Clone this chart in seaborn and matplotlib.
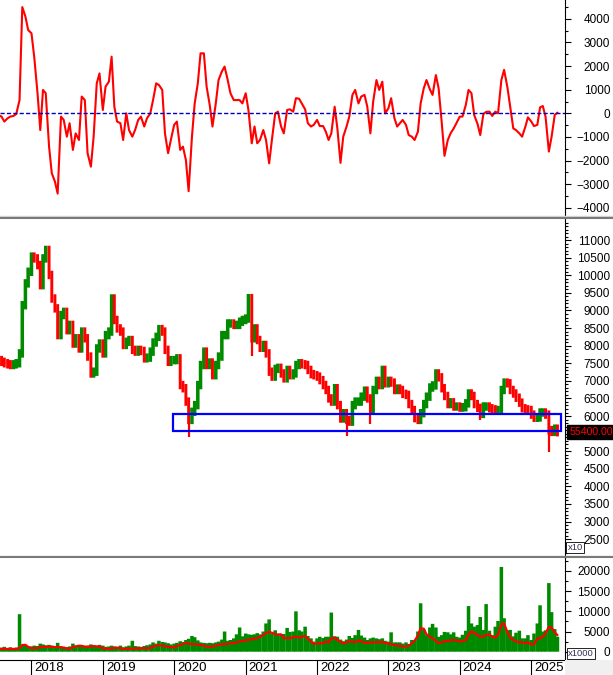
import numpy as np
import pandas as pd
import seaborn as sns
import matplotlib.pyplot as plt
import matplotlib.dates as mdates
from matplotlib.patches import Rectangle
from matplotlib.lines import Line2D

sns.set_style("white")
plt.rcParams["font.family"] = ["Liberation Sans", "DejaVu Sans"]

# semi-monthly samples
dates = pd.date_range("2017-07-15", "2025-05-31", freq="SMS")

oscillator = [
    -70, -140, -350, -210, -140, -110, -30, 560, 4500, 4100, 3530, 3390, 2400, 850, -710, 990,
    850, -1410, -2540, -2890, -3400, -140, -280, -990, -420, -1550, -850, -1130, 710, 560, -1690, -2260,
    -990, 1270, 1690, 140, 1130, 1340, 2400, 280, -350, -420, -1130, 0, -710, -990, -710, -280,
    -140, -560, -210, 0, 560, 1270, 1200, 990, -850, -1690, -1130, -490, -350, -1550, -1410, -1980,
    -3300, -990, 420, 1270, 2540, 2540, 1130, 350, -560, 420, 1410, 1770, 1980, 1410, 850, 560,
    560, 560, 420, 850, 140, -1270, -560, -1270, -1130, -710, -1130, -2120, -1130, 0, 70, -560,
    -850, 140, 170, 70, 640, 620, 420, 170, -420, -560, -490, -280, -540, -540, -780, -1130,
    -850, 280, -640, -2100, -990, -560, -140, 780, 990, 420, 710, 780, 280, -850, 490, 1410,
    990, 1340, 0, 210, 640, -210, -560, -420, -280, -490, -920, -990, -1130, -780, 420, 1060,
    1410, 1020, 780, 1620, 1060, -400, -1800, -1130, -850, -640, -420, -140, -140, 350, 990, 850,
    -70, -450, -920, -30, 60, 70, -110, 70, 0, 1410, 1840, 1100, 280, -640, -710, -850,
    -990, -590, -170, -350, -540, -490, 250, 310, -140, -1620, -990, -70, 30,
]

close = [
    7590, 7540, 7500, 7470, 7450, 7470, 7500, 7780, 9150, 9770, 10100, 10530, 10480, 10290, 9720, 10480,
    10720, 10010, 9340, 9060, 8300, 8870, 8960, 8440, 8590, 8060, 8210, 7920, 8400, 8210, 7690, 7210,
    7260, 7920, 8060, 7780, 8300, 8400, 9340, 8730, 8490, 8400, 8020, 8110, 8160, 7880, 7830, 7880,
    7850, 7640, 7660, 7830, 8090, 8250, 8470, 8400, 7880, 7540, 7590, 7590, 7640, 6880, 6790, 6410,
    5890, 6120, 6310, 6880, 7450, 7830, 7450, 7520, 7160, 7450, 7690, 8300, 8300, 8630, 8630, 8590,
    8590, 8680, 8730, 8770, 9350, 8210, 8490, 8160, 7940, 8020, 7780, 7260, 7120, 7340, 7370, 7210,
    7070, 7310, 7160, 7210, 7450, 7500, 7470, 7450, 7310, 7190, 7160, 7120, 7020, 6880, 6740, 6500,
    6410, 6790, 6310, 5930, 6080, 5890, 5840, 6310, 6410, 6410, 6550, 6720, 6500, 6170, 6740, 7000,
    6880, 7310, 6930, 7000, 6950, 6740, 6780, 6740, 6630, 6600, 6340, 6170, 5940, 5890, 6080, 6340,
    6550, 6810, 6870, 7210, 7100, 6790, 6570, 6340, 6390, 6270, 6270, 6240, 6250, 6360, 6640, 6570,
    6340, 6230, 6060, 6270, 6270, 6220, 6190, 6170, 6170, 6740, 6950, 6930, 6740, 6640, 6520, 6380,
    6220, 6190, 6170, 6040, 5950, 5960, 6100, 6100, 6040, 5600, 5550, 5640, 5540,
]

volume = [
    900, 1000, 1200, 900, 1100, 900, 1000, 9300, 1800, 1500, 1200, 1300, 1500, 1400, 2000, 1800,
    1600, 1700, 1500, 1400, 2200, 1300, 1200, 1100, 1300, 2000, 1500, 1700, 1600, 1400, 1500, 1800,
    1500, 1400, 1700, 1500, 1200, 1300, 1500, 1300, 1200, 1500, 1100, 1300, 1500, 2700, 1400, 1300,
    1200, 1400, 1600, 1800, 2300, 2000, 2700, 2400, 2300, 2100, 1800, 2000, 2200, 2600, 2400, 2900,
    3200, 3900, 3600, 2800, 2300, 2200, 2100, 2200, 2100, 2300, 2500, 3000, 5000, 2700, 2900, 3300,
    4300, 6000, 3800, 4500, 4300, 4200, 4300, 4600, 4300, 5000, 7000, 8000, 4500, 5300, 4500, 4200,
    4400, 5900, 4900, 5000, 10000, 5300, 5000, 6200, 3900, 3300, 2500, 3300, 3700, 3400, 3700, 3700,
    9700, 3800, 3700, 3000, 2600, 3000, 3900, 3400, 4100, 5400, 4000, 3500, 2900, 3300, 3500, 3300,
    3100, 3300, 2700, 2500, 4800, 2300, 2300, 2300, 2000, 2300, 1900, 2900, 2900, 5000, 12000, 5500,
    4100, 6000, 6900, 6000, 3700, 4100, 4900, 4800, 4300, 4800, 3700, 3500, 4200, 5200, 11300, 7000,
    6200, 6600, 8600, 5400, 11800, 5200, 4100, 6200, 7600, 21000, 8300, 5300, 5400, 3800, 4700, 5200,
    3300, 3300, 4100, 2900, 4500, 7000, 11500, 5000, 5300, 17000, 9800, 5600, 3700,
]

volume_ma = [
    670, 670, 680, 690, 680, 680, 700, 900, 1650, 1700, 1200, 900, 850, 900, 1150, 1200,
    1150, 1250, 1200, 1150, 1150, 1100, 1000, 850, 700, 1150, 1300, 1450, 1450, 1250, 1200, 1300,
    1400, 1300, 1250, 850, 800, 700, 800, 950, 1000, 850, 700, 700, 700, 750, 800, 830,
    830, 830, 830, 900, 1250, 1500, 1600, 1500, 1300, 1250, 1100, 1050, 1400, 1650, 1900, 2100,
    2000, 1900, 1800, 1750, 1650, 1500, 1250, 1200, 1250, 1500, 1650, 1800, 1850, 1950, 2100, 2100,
    2300, 2500, 2650, 2800, 2900, 3100, 3200, 3400, 3700, 4100, 4600, 4900, 4700, 4300, 4200, 4300,
    3300, 3400, 3300, 3600, 3700, 3450, 3700, 3900, 3300, 2500, 2000, 2000, 2100, 2100, 2500, 2300,
    3300, 3500, 2900, 2500, 2100, 2300, 2600, 2500, 2300, 2800, 2600, 2200, 2200, 2300, 2300, 2300,
    2300, 2500, 2100, 2100, 1800, 1650, 1500, 1500, 1250, 1300, 1400, 2100, 2700, 4000, 5800, 5700,
    4300, 3700, 3300, 2700, 2100, 2300, 2600, 2650, 2800, 2900, 2800, 2500, 2600, 2900, 4200, 5000,
    4700, 4100, 3700, 3800, 4100, 4300, 3700, 3500, 4200, 6800, 7000, 4800, 3500, 2900, 2600, 2300,
    2300, 2100, 2300, 1800, 1800, 3300, 3300, 3700, 4600, 6100, 6000, 4800, 4100,
]

# long lower shadows that stick out of the price band
wick_dates = ["2020-03-15", "2021-02-01", "2022-06-01", "2022-10-01", "2023-06-01", "2024-04-15", "2025-04-01"]
wick_lows = [5400, 7700, 5430, 5770, 5770, 5880, 4990]

# support zone drawn on the price pane
zone_start, zone_end = "2019-12-24", "2025-06-03"
zone_low, zone_high = 5580, 6060
last_price_label = "55400.00"

years = [2018, 2019, 2020, 2021, 2022, 2023, 2024, 2025]

GREEN = "#008a00"
RED = "#ff0000"
BLUE = "#0000ff"
W, H = 613, 675


def fig_y(py):
    return 1 - py / H


fig = plt.figure(figsize=(W / 100, H / 100), dpi=100)
fig.patch.set_facecolor("white")
aw = 564.5 / W
ax1 = fig.add_axes([0, fig_y(216), aw, 216 / H])
ax2 = fig.add_axes([0, fig_y(555), aw, (555 - 219) / H])
ax3 = fig.add_axes([0, fig_y(660), aw, (660 - 558) / H])

xmin, xmax = pd.Timestamp("2017-07-24"), pd.Timestamp("2025-06-20")

# oscillator pane
sns.lineplot(x=dates, y=oscillator, ax=ax1, color=RED, linewidth=1.5)
ax1.axhline(0, color="#0000c0", linewidth=1.0, linestyle=(0, (3, 1.6)))
ax1.set_ylim(-4350, 4800)
ax1.set_yticks(range(-4000, 4001, 1000))
ax1.set_yticks(range(-4000, 4801, 500), minor=True)

# price pane: bi-weekly candles
c = np.array(close, dtype=float)
o = np.r_[c[0], c[:-1]]
up = c >= o
body_pad = 120
lo = np.minimum(o, c) - body_pad
hi = np.maximum(o, c) + body_pad
ax2.bar(dates[up], (hi - lo)[up], bottom=lo[up], width=18, color=GREEN,
        linewidth=0, snap=False)
ax2.bar(dates[~up], (hi - lo)[~up], bottom=lo[~up], width=15, color=RED,
        linewidth=0, snap=False)
wd = pd.to_datetime(wick_dates)
idx = [dates.get_loc(d) for d in wd]
ax2.vlines(wd, wick_lows, lo[idx], colors=[GREEN if up[i] else RED for i in idx], linewidth=1.6)
z0 = mdates.date2num(pd.Timestamp(zone_start))
z1 = mdates.date2num(pd.Timestamp(zone_end))
ax2.add_patch(Rectangle((z0, zone_low), z1 - z0, zone_high - zone_low,
                        fill=False, edgecolor=BLUE, linewidth=1.6, zorder=5))
ax2.set_ylim(2050, 11600)
price_ticks = list(range(2500, 11001, 500))
ax2.set_yticks(price_ticks)
# the 5500 label sits under the last-price tag, as in the original
ax2.set_yticklabels(["" if t == 5500 else str(t) for t in price_ticks])
ax2.set_yticks(range(2100, 11600, 100), minor=True)
ax2.annotate(last_price_label, xy=(1, close[-1]), xycoords=("axes fraction", "data"),
             xytext=(3.5, 0), textcoords="offset points", ha="left", va="center",
             color=RED, fontsize=7.6, annotation_clip=False, zorder=10,
             bbox=dict(boxstyle="square,pad=0.2", fc="black", ec="black"))

# volume pane
ax3.bar(dates, volume, width=18, color=GREEN, linewidth=0, snap=False)
sns.lineplot(x=dates, y=volume_ma, ax=ax3, color=RED, linewidth=1.6)
ax3.set_ylim(-2060, 23220)
ax3.set_yticks(range(0, 20001, 5000))
ax3.set_yticks(range(0, 23000, 2500), minor=True)

for ax in (ax1, ax2, ax3):
    ax.set_xlim(xmin, xmax)
    ax.set_facecolor("white")
    ax.set_xlabel("")
    ax.set_ylabel("")
    for s in ("top", "left", "bottom"):
        ax.spines[s].set_visible(False)
    ax.spines["right"].set_color("black")
    ax.spines["right"].set_linewidth(0.8)
    ax.yaxis.tick_right()
    ax.tick_params(axis="y", which="major", length=4, width=0.8, direction="out",
                   pad=28.8, labelsize=8.5, labelcolor="black", color="black")
    ax.tick_params(axis="y", which="minor", length=2.2, width=0.8, direction="out", color="black")
    ax.tick_params(axis="x", which="both", bottom=False, labelbottom=False)
    plt.setp(ax.get_yticklabels(), ha="right")

# year axis under the volume pane
ax3.spines["bottom"].set_visible(True)
ax3.spines["bottom"].set_color("black")
ax3.spines["bottom"].set_linewidth(0.8)
year_dates = [pd.Timestamp(f"{y}-01-01") for y in years]
ax3.set_xticks(year_dates)
ax3.tick_params(axis="x", which="major", bottom=True, labelbottom=False, length=11,
                width=0.8, direction="out", color="black")
for y, d in zip(years, year_dates):
    ax3.annotate(str(y), xy=(d, 0), xycoords=("data", "axes fraction"), xytext=(2.2, -6),
                 textcoords="offset points", ha="left", va="center", fontsize=9.5,
                 color="black", annotation_clip=False)

# pane separators and frame bits
for py, col, lw in [(215.8, "#d4d4d4", 1.0), (217.6, "#7a7a7a", 1.5),
                    (555.6, "#d4d4d4", 1.0), (557.2, "#7a7a7a", 1.5)]:
    fig.add_artist(Line2D([0, 1], [fig_y(py), fig_y(py)], transform=fig.transFigure,
                          color=col, linewidth=lw))
fig.add_artist(Rectangle((565 / W, 0), 1 - 565 / W, 15 / H, transform=fig.transFigure,
                         facecolor="#f0f0f0", edgecolor="none"))

unit_box = dict(boxstyle="square,pad=0.12", fc="white", ec="black", lw=0.6)
fig.text(567.5 / W, fig_y(547.5), "x10", fontsize=6.8, color="#333355",
         ha="left", va="center", bbox=unit_box)
fig.text(568 / W, fig_y(653.5), "x1000", fontsize=6.8, color="#333355",
         ha="left", va="center", bbox=unit_box)

fig.savefig("out.png", dpi=100)
